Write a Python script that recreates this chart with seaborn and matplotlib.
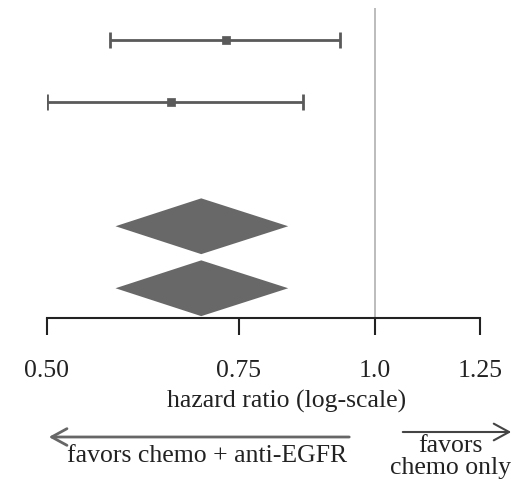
import matplotlib
matplotlib.use("Agg")
import matplotlib.pyplot as plt
import seaborn as sns
import pandas as pd
import numpy as np

# Data
study_rows = [0, 1]
study_hr = [0.731, 0.650]
study_lo = [0.571, 0.500]
study_hi = [0.930, 0.860]

pooled_rows = [3, 4]
pooled_hr = [0.693, 0.693]
pooled_lo = [0.578, 0.578]
pooled_hi = [0.833, 0.833]

tick_values = [0.50, 0.75, 1.0, 1.25]
tick_labels = ["0.50", "0.75", "1.0", "1.25"]

sns.set_theme(style="white")
plt.rcParams['font.family'] = ['Liberation Serif', 'DejaVu Serif']

W, H = 523, 484
FS = 18.5
fig = plt.figure(figsize=(W / 100, H / 100), dpi=100)
ax = fig.add_axes([47 / W, 1 - 318 / H, (480 - 47) / W, (318 - 8) / H])

grey = "#5a5a5a"
df = pd.DataFrame({"row": study_rows, "hr": study_hr, "lo": study_lo, "hi": study_hi})

# error bars
ax.errorbar(df["hr"], df["row"],
            xerr=[df["hr"] - df["lo"], df["hi"] - df["hr"]],
            fmt="none", ecolor=grey, elinewidth=2, capsize=5.8, capthick=2, zorder=2)
sns.scatterplot(data=df, x="hr", y="row", marker="s", s=40, color=grey,
                edgecolor=grey, ax=ax, zorder=3, legend=False)

# pooled diamonds
half_h = 0.45
for r, est, lo, hi in zip(pooled_rows, pooled_hr, pooled_lo, pooled_hi):
    ax.fill([lo, est, hi, est], [r, r - half_h, r, r + half_h],
            color="#686868", lw=0, zorder=2)

# reference line
ax.axvline(1.0, color="#b0b0b0", lw=1.2, zorder=1)

ax.set_xscale("log")
ax.set_xlim(0.5, 1.25)
ax.set_ylim(4.48, -0.52)
ax.set_xticks(tick_values)
ax.set_xticklabels(tick_labels)
ax.xaxis.set_minor_locator(matplotlib.ticker.NullLocator())
ax.set_yticks([])
ax.set_xlabel("")
ax.set_ylabel("")
for s in ["left", "top", "right"]:
    ax.spines[s].set_visible(False)
ax.spines["bottom"].set_color("#222222")
ax.spines["bottom"].set_linewidth(1.5)
ax.tick_params(axis="x", direction="out", length=12, width=1.5, color="#222222",
               pad=18, labelsize=FS, labelcolor="#222222", bottom=True)
ax.patch.set_alpha(0)

fig.text(287 / W, 1 - 401 / H, "hazard ratio (log-scale)", ha="center", va="center",
         fontsize=FS, color="#222222")

# arrows
fig.add_artist(matplotlib.patches.FancyArrowPatch(
    (352 / W, 1 - 437 / H), (46 / W, 1 - 437 / H), transform=fig.transFigure,
    arrowstyle="->,head_length=11,head_width=6", color="#666666", lw=2, mutation_scale=1))
fig.add_artist(matplotlib.patches.FancyArrowPatch(
    (400 / W, 1 - 432 / H), (514 / W, 1 - 432 / H), transform=fig.transFigure,
    arrowstyle="->,head_length=11,head_width=6", color="#444444", lw=1.5, mutation_scale=1))
fig.text(207 / W, 1 - 456 / H, "favors chemo + anti-EGFR", ha="center", va="center",
         fontsize=FS, color="#222222")
fig.text(450 / W, 1 - 457 / H, "favors\nchemo only", ha="center", va="center",
         fontsize=FS, color="#222222", linespacing=1.0)

fig.savefig("out.png", dpi=100)
